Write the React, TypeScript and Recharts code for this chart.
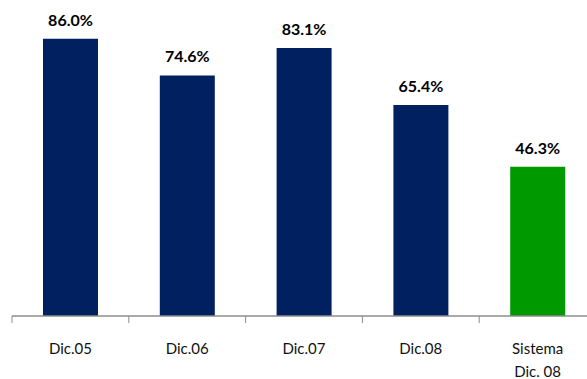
import { BarChart, Bar, XAxis, YAxis, Cell, LabelList } from "recharts";

const categories = ["Dic.05", "Dic.06", "Dic.07", "Dic.08", "Sistema\nDic. 08"];
const values = [86.0, 74.6, 83.1, 65.4, 46.3];
const barColors = ["#00205F", "#00205F", "#00205F", "#00205F", "#009900"];

const data = categories.map((name, i) => ({ name, value: values[i], fill: barColors[i] }));

const BAND = 584 / categories.length;

// category label plus the separator tick at the left edge of each band
function CategoryTick(props: any) {
  const { x, y, payload } = props;
  const lines = String(payload.value).split("\n");
  return (
    <g>
      <line x1={x - BAND / 2} y1={y} x2={x - BAND / 2} y2={y + 7} stroke="#8c8c8c" strokeWidth={1} />
      <text x={x} y={y + 38} textAnchor="middle" fill="#111" fontSize={15} fontFamily="Lato, sans-serif">
        {lines.map((l, i) => (
          <tspan key={i} x={x} dy={i === 0 ? 0 : 23}>
            {l}
          </tspan>
        ))}
      </text>
    </g>
  );
}

export default function App() {
  return (
    <div style={{ position: "absolute", left: 0, top: 0, width: 587, height: 379, overflow: "hidden", background: "#fff" }}>
      <BarChart width={600} height={379} data={data} margin={{ top: 0, right: 4, bottom: 0, left: 12 }}>
        <YAxis hide domain={[0, 98]} />
        <XAxis
          dataKey="name"
          height={63}
          tickSize={0}
          tickMargin={0}
          tickLine={false}
          axisLine={{ stroke: "#8c8c8c", strokeWidth: 1.5 }}
          tick={<CategoryTick />}
          interval={0}
        />
        <Bar dataKey="value" barSize={55} isAnimationActive={false}>
          {data.map((d, i) => (
            <Cell key={`c-${i}`} fill={d.fill} />
          ))}
          <LabelList
            dataKey="value"
            position="top"
            offset={13}
            formatter={(v: any) => `${Number(v).toFixed(1)}%`}
            style={{ fontFamily: "Lato, sans-serif", fontWeight: 700, fontSize: 16, fill: "#000" }}
          />
        </Bar>
      </BarChart>
    </div>
  );
}
